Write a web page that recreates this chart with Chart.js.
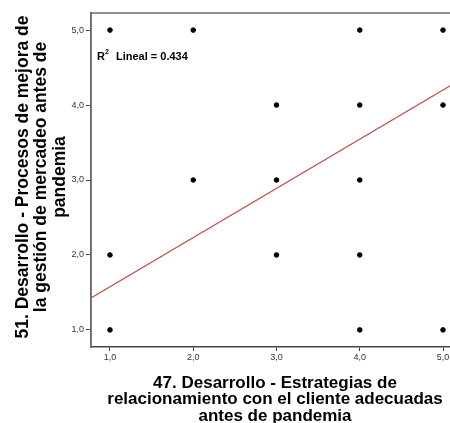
<!DOCTYPE html>
<html>
<head>
<meta charset="utf-8">
<script src="https://cdn.jsdelivr.net/npm/chart.js@4/dist/chart.umd.min.js"></script>
<style>
  html, body { margin: 0; padding: 0; background: #fff; overflow: hidden; }
  #wrap { width: 470px; height: 423px; }
</style>
</head>
<body>
<div id="wrap"><canvas id="scatter" width="470" height="423"></canvas></div>
<script>
// Data
const xValues = [1, 2, 4, 5, 3, 4, 5, 2, 3, 4, 1, 3, 4, 1, 4, 5];
const yValues = [5, 5, 5, 5, 4, 4, 4, 3, 3, 3, 2, 2, 2, 1, 1, 1];
const tickValues = [1, 2, 3, 4, 5];
const fitSlope = 0.656;
const fitIntercept = 0.921;
const rSquared = '0.434';

const axisMin = 0.772;
const axisMax = 5.228;

const xTitle = ['47. Desarrollo - Estrategias de', 'relacionamiento con el cliente adecuadas', 'antes de pandemia'];
const yTitle = ['51. Desarrollo - Procesos de mejora de', 'la gestión de mercadeo antes de', 'pandemia'];

const points = xValues.map((x, i) => ({ x: x, y: yValues[i] }));
const fitLine = [axisMin, axisMax].map(x => ({ x: x, y: fitIntercept + fitSlope * x }));

// Frame, titles and R2 label
const decorPlugin = {
    id: 'decor',
    beforeDatasetsDraw(chart) {
        const { ctx, chartArea: a } = chart;
        ctx.save();
        ctx.strokeStyle = '#6b6b6b';
        ctx.lineWidth = 1.5;
        ctx.beginPath();
        ctx.moveTo(a.left, a.bottom);
        ctx.lineTo(a.left, a.top);
        ctx.lineTo(a.right, a.top);
        ctx.lineTo(a.right, a.bottom);
        ctx.stroke();
        ctx.restore();
    },
    afterDraw(chart) {
        const { ctx } = chart;
        ctx.save();
        ctx.fillStyle = '#000';
        ctx.font = 'bold 17px "Liberation Sans", Arial, sans-serif';
        ctx.textAlign = 'center';
        ctx.textBaseline = 'middle';
        xTitle.forEach((line, i) => {
            ctx.fillText(line, 275, 383 + i * 16.5);
        });
        ctx.save();
        ctx.font = 'bold 17.5px "Liberation Sans", Arial, sans-serif';
        ctx.translate(0, 177);
        ctx.rotate(-Math.PI / 2);
        yTitle.forEach((line, i) => {
            ctx.fillText(line, 0, 23 + i * 18.5);
        });
        ctx.restore();

        ctx.textAlign = 'left';
        ctx.font = 'bold 11px "Liberation Sans", Arial, sans-serif';
        ctx.fillText('R', 97, 57);
        ctx.font = 'bold 7px "Liberation Sans", Arial, sans-serif';
        ctx.fillText('2', 105, 52);
        ctx.font = 'bold 11px "Liberation Sans", Arial, sans-serif';
        ctx.fillText('Lineal = ' + rSquared, 116, 57);
        ctx.restore();
    }
};

const tickFont = { family: '"Liberation Sans", Arial, sans-serif', size: 9 };

new Chart(document.getElementById('scatter'), {
    type: 'scatter',
    data: {
        datasets: [
            {
                label: 'Observed',
                data: points,
                backgroundColor: '#000',
                borderColor: '#000',
                pointRadius: 2.3,
                pointHoverRadius: 2.3
            },
            {
                label: 'Lineal',
                type: 'line',
                data: fitLine,
                borderColor: '#c0504d',
                borderWidth: 1.2,
                pointRadius: 0,
                fill: false
            }
        ]
    },
    options: {
        responsive: false,
        animation: false,
        layout: { padding: { top: 13, right: 8, left: 0, bottom: 0 } },
        plugins: {
            legend: { display: false },
            tooltip: { enabled: false }
        },
        scales: {
            x: {
                type: 'linear',
                min: axisMin,
                max: axisMax,
                afterBuildTicks: s => { s.ticks = tickValues.map(v => ({ value: v })); },
                afterFit: s => { s.height = 76; },
                grid: { drawOnChartArea: false, tickLength: 4, color: '#444' },
                border: { color: '#444', width: 1.5 },
                ticks: {
                    color: '#333',
                    font: tickFont,
                    padding: 1,
                    maxRotation: 0,
                    callback: v => v.toFixed(1).replace('.', ',')
                }
            },
            y: {
                type: 'linear',
                min: axisMin,
                max: axisMax,
                afterBuildTicks: s => { s.ticks = tickValues.map(v => ({ value: v })); },
                afterFit: s => { s.width = 91; },
                grid: { drawOnChartArea: false, tickLength: 5, color: '#444' },
                border: { color: '#6b6b6b', width: 1.5 },
                ticks: {
                    color: '#333',
                    font: tickFont,
                    padding: 2,
                    callback: v => v.toFixed(1).replace('.', ',')
                }
            }
        }
    },
    plugins: [decorPlugin]
});
</script>
</body>
</html>
